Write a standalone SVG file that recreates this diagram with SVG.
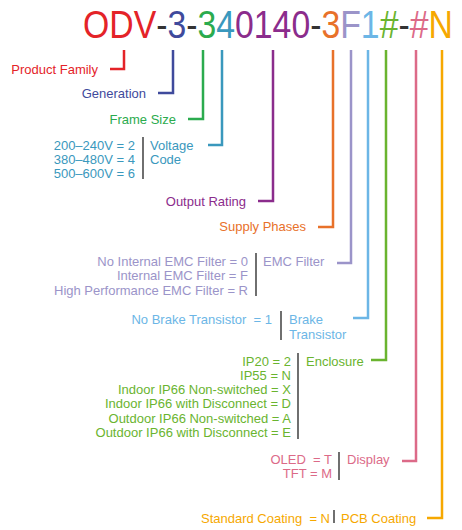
<svg xmlns="http://www.w3.org/2000/svg" width="462" height="530" viewBox="0 0 462 530">
<style>
text{font-family:"Liberation Sans",Arial,sans-serif;font-size:13px;white-space:pre}
.title{font-size:39px}
.end{text-anchor:end}
.c{fill:none;stroke-width:2.5;stroke-linejoin:miter}
.sep{stroke:#333;stroke-width:1.4}
.red{fill:#e42328}.blue{fill:#3f4a9c}.grn{fill:#2bab4e}.teal{fill:#3a98bd}.pur{fill:#8b2c8c}.org{fill:#e8712a}.lav{fill:#9b94c9}.lb{fill:#6cb6e6}.lg{fill:#6ab42f}.pink{fill:#dc6a88}.yel{fill:#f6a800}.dash{fill:#333}
</style>
<rect width="462" height="530" fill="#fff"/>
<g id="title">
<text class="title" transform="translate(83,38) scale(0.866,1)" x="0" y="0"><tspan class="red">ODV</tspan><tspan class="dash">-</tspan><tspan class="blue">3</tspan><tspan class="dash">-</tspan><tspan class="grn">3</tspan><tspan class="teal">4</tspan><tspan class="pur">0140</tspan><tspan class="dash">-</tspan><tspan class="org">3</tspan><tspan class="lav">F</tspan><tspan class="lb">1</tspan><tspan class="lg">#</tspan><tspan class="dash">-</tspan><tspan class="pink">#</tspan><tspan class="yel">N</tspan></text>
</g>
<g id="connectors">
<polyline class="c" stroke="#e42328" points="124,50 124,69 110,69"/>
<polyline class="c" stroke="#3f4a9c" points="173,50 173,93 158,93"/>
<polyline class="c" stroke="#2bab4e" points="203,50 203,119 188,119"/>
<polyline class="c" stroke="#3a98bd" points="222,50 222,145 208,145"/>
<polyline class="c" stroke="#8b2c8c" points="273,50 273,201 258,201"/>
<polyline class="c" stroke="#e8712a" points="333,50 333,227 318,227"/>
<polyline class="c" stroke="#9b94c9" points="351,50 351,263 337,263"/>
<polyline class="c" stroke="#6cb6e6" points="368,50 368,318 353,318"/>
<polyline class="c" stroke="#6ab42f" points="386,50 386,360 371,360"/>
<polyline class="c" stroke="#dc6a88" points="416,50 416,461 402,461"/>
<polyline class="c" stroke="#f6a800" points="442,50 442,518 427,518"/>
</g>
<g id="product-family"><text class="red end" x="98" y="73.5">Product Family</text></g>
<g id="generation"><text class="blue end" x="146" y="97.5">Generation</text></g>
<g id="frame-size"><text class="grn end" x="176" y="123.5">Frame Size</text></g>
<g id="voltage-code">
<text class="teal end" x="135" y="149.5">200–240V = 2</text>
<text class="teal end" x="135" y="163.5">380–480V = 4</text>
<text class="teal end" x="135" y="177.5">500–600V = 6</text>
<line class="sep" x1="143" y1="137" x2="143" y2="179"/>
<text class="teal" x="150" y="149.5">Voltage</text>
<text class="teal" x="150" y="163.5">Code</text>
</g>
<g id="output-rating"><text class="pur end" x="246" y="205.5">Output Rating</text></g>
<g id="supply-phases"><text class="org end" x="306" y="231">Supply Phases</text></g>
<g id="emc-filter">
<text class="lav end" x="248" y="266">No Internal EMC Filter = 0</text>
<text class="lav end" x="248" y="280">Internal EMC Filter = F</text>
<text class="lav end" x="248" y="295">High Performance EMC Filter = R</text>
<line class="sep" x1="256" y1="253" x2="256" y2="296"/>
<text class="lav" x="263" y="266">EMC Filter</text>
</g>
<g id="brake-transistor">
<text class="lb end" x="272" y="323.5">No Brake Transistor  = 1</text>
<line class="sep" x1="281" y1="311" x2="281" y2="340"/>
<text class="lb" x="289" y="323.5">Brake</text>
<text class="lb" x="289" y="339">Transistor</text>
</g>
<g id="enclosure">
<text class="lg end" x="291" y="365.5">IP20 = 2</text>
<text class="lg end" x="291" y="379.8">IP55 = N</text>
<text class="lg end" x="291" y="394.1">Indoor IP66 Non-switched = X</text>
<text class="lg end" x="291" y="408.4">Indoor IP66 with Disconnect = D</text>
<text class="lg end" x="291" y="422.7">Outdoor IP66 Non-switched = A</text>
<text class="lg end" x="291" y="437">Outdoor IP66 with Disconnect = E</text>
<line class="sep" x1="298" y1="353" x2="298" y2="439"/>
<text class="lg" x="306" y="365.5">Enclosure</text>
</g>
<g id="display">
<text class="pink end" x="332" y="463.5">OLED  = T</text>
<text class="pink end" x="332" y="477.5">TFT = M</text>
<line class="sep" x1="339" y1="452" x2="339" y2="480"/>
<text class="pink" x="347" y="463.5">Display</text>
</g>
<g id="pcb-coating">
<text class="yel end" x="330" y="522.5">Standard Coating  = N</text>
<line class="sep" x1="334" y1="510" x2="334" y2="523"/>
<text class="yel" x="341" y="522.5">PCB Coating</text>
</g>
</svg>
